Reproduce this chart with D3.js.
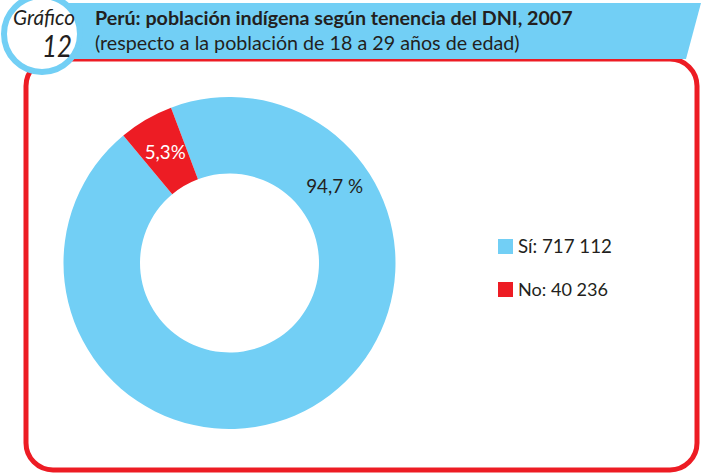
<!DOCTYPE html>
<html><head><meta charset="utf-8">
<script src="https://cdn.jsdelivr.net/npm/d3@7"></script>
<style>body{margin:0;background:#fff}svg{display:block}</style>
</head><body>
<script>
const categories = ["Sí", "No"];
const values = [717112, 40236];
const pctLabels = ["94,7 %", "5,3%"];
const legendLabels = ["Sí: 717 112", "No: 40 236"];
const titleText = "Perú: población indígena según tenencia del DNI, 2007";
const subtitleText = "(respecto a la población de 18 a 29 años de edad)";

const W = 701, H = 473;
const BLUE = "#72CFF5", RED = "#ED1C24", TXT = "#231F20";
const FONT = "Lato, 'Open Sans', sans-serif";

const svg = d3.select("body").append("svg").attr("width", W).attr("height", H);

// scale font-size so the text spans a given width
function fit(sel, target) {
  const w = sel.node().getComputedTextLength();
  const fs = parseFloat(sel.attr("font-size"));
  sel.attr("font-size", (fs * target / w).toFixed(2));
  return sel;
}

// red rounded frame
svg.append("rect").attr("x", 26).attr("y", 59).attr("width", 671).attr("height", 411)
  .attr("rx", 27).attr("fill", "none").attr("stroke", RED).attr("stroke-width", 5);

// header band
svg.append("path").attr("d", "M40,3 L701,3 L686,59 L40,59 Z").attr("fill", BLUE);

// circle badge
svg.append("circle").attr("cx", 42).attr("cy", 34).attr("r", 38)
  .attr("fill", "#fff").attr("stroke", BLUE).attr("stroke-width", 6);
fit(svg.append("text").attr("x", 13).attr("y", 25)
  .attr("font-family", FONT).attr("font-style", "italic").attr("font-size", 18).attr("fill", TXT).text("Gráfico"), 62);
svg.append("text").attr("x", 72).attr("y", 57).attr("text-anchor", "end")
  .attr("font-family", FONT).attr("font-style", "italic").attr("font-size", 31)
  .attr("textLength", 30).attr("lengthAdjust", "spacingAndGlyphs").attr("fill", TXT).text("12");

// titles
fit(svg.append("text").attr("x", 95).attr("y", 25).attr("font-family", FONT).attr("font-weight", "bold")
  .attr("font-size", 17.5).attr("fill", TXT).text(titleText), 478);
fit(svg.append("text").attr("x", 95).attr("y", 50).attr("font-family", FONT)
  .attr("font-size", 17.5).attr("fill", TXT).text(subtitleText), 425);

// donut
const cx = 229.5, cy = 263, rOut = 166, rIn = 89.5;
const color = d3.scaleOrdinal().domain(categories).range([BLUE, RED]);
const total = d3.sum(values);
const redSpan = values[1] / total * 2 * Math.PI;
const redMid = -30.2 * Math.PI / 180;
const start = redMid + redSpan / 2;
const pie = d3.pie().sort(null).startAngle(start).endAngle(start + 2 * Math.PI);
const arcs = pie(values);
const arc = d3.arc().innerRadius(rIn).outerRadius(rOut);
const g = svg.append("g").attr("transform", `translate(${cx},${cy})`);
g.selectAll("path").data(arcs).join("path").attr("d", arc).attr("fill", (d, i) => color(categories[i]));

// labels
const labelAngles = [54 * Math.PI / 180, null];
const labelWidths = [57, 41];
g.selectAll("text.lbl").data(arcs).join("text").attr("class", "lbl")
  .attr("transform", (d, i) => {
    let c;
    if (labelAngles[i] !== null) {
      const a = labelAngles[i], r = 130;
      c = [r * Math.sin(a), -r * Math.cos(a)];
    } else c = arc.centroid(d);
    return `translate(${c[0]},${c[1]})`;
  })
  .attr("dy", "0.35em").attr("text-anchor", "middle")
  .attr("font-family", FONT).attr("font-size", 17)
  .attr("fill", (d, i) => i === 1 ? "#fff" : TXT)
  .text((d, i) => pctLabels[i])
  .each(function(d, i) { fit(d3.select(this), labelWidths[i]); });

// legend
const legWidths = [94, 90];
const leg = svg.append("g");
legendLabels.forEach((t, i) => {
  const y = 239 + i * 43;
  leg.append("rect").attr("x", 498).attr("y", y).attr("width", 15).attr("height", 15).attr("fill", color(categories[i]));
  fit(leg.append("text").attr("x", 518).attr("y", y + 14).attr("font-family", FONT).attr("font-size", 17.5)
    .attr("fill", TXT).text(t), legWidths[i]);
});
</script>
</body></html>
